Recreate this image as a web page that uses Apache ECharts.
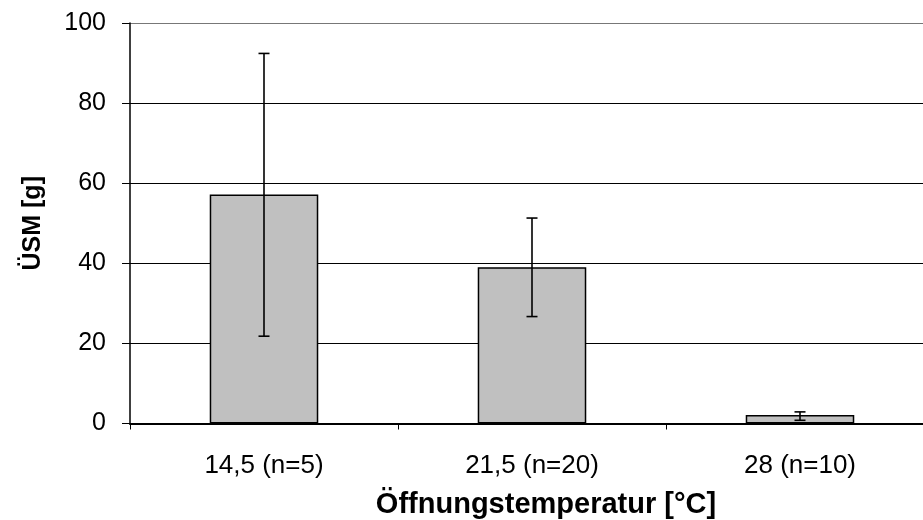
<!DOCTYPE html>
<html>
<head>
<meta charset="utf-8">
<script src="https://cdn.jsdelivr.net/npm/echarts@6/dist/echarts.min.js"></script>
<style>
  html, body { margin: 0; padding: 0; background: #fff; }
  #chart { width: 923px; height: 520px; }
</style>
</head>
<body>
<div id="chart"></div>
<script>
// Opening temperature groups and mean dry mass with error range
const categories = ['14,5 (n=5)', '21,5 (n=20)', '28 (n=10)'];
const meanValues = [57.2, 39.0, 2.1];
const errLow = [21.8, 26.7, 0.8];
const errHigh = [92.4, 51.3, 2.9];
const yTicks = [0, 20, 40, 60, 80, 100];

const FONT = '"Liberation Sans", Arial, sans-serif';

const chart = echarts.init(document.getElementById('chart'), null, { renderer: 'canvas' });

const errData = categories.map((c, i) => [i, errLow[i], errHigh[i]]);

chart.setOption({
  animation: false,
  backgroundColor: '#fff',
  grid: { left: 130, top: 23, width: 804, height: 400.5, containLabel: false, outerBoundsMode: 'none' },
  xAxis: {
    type: 'category',
    data: categories,
    name: 'Öffnungstemperatur [°C]',
    nameLocation: 'middle',
    nameGap: 67,
    nameTextStyle: { fontFamily: FONT, fontSize: 29, fontWeight: 'bold', color: '#000', padding: [0, 0, 0, 28] },
    axisLine: { lineStyle: { color: '#000', width: 2 } },
    axisTick: { show: true, length: 6, lineStyle: { color: '#000', width: 1 }, alignWithLabel: false },
    axisLabel: { fontFamily: FONT, fontSize: 26, color: '#000', margin: 29 },
    splitLine: { show: false }
  },
  yAxis: {
    type: 'value',
    min: yTicks[0],
    max: yTicks[yTicks.length - 1],
    interval: 20,
    name: 'ÜSM [g]',
    nameLocation: 'middle',
    nameGap: 84,
    nameRotate: 90,
    nameTextStyle: { fontFamily: FONT, fontSize: 25, fontWeight: 'bold', color: '#000' },
    axisLine: { show: true, lineStyle: { color: '#000', width: 1.5 } },
    axisTick: { show: true, length: 8, lineStyle: { color: '#000', width: 1 } },
    axisLabel: { fontFamily: FONT, fontSize: 25, color: '#000', margin: 24 },
    splitLine: { show: true, lineStyle: { color: ['#000', '#000', '#000', '#000', '#000', '#777'], width: 1 } }
  },
  series: [
    {
      type: 'bar',
      data: meanValues,
      barWidth: '40.5%',
      itemStyle: { color: '#c0c0c0', borderColor: '#000', borderWidth: 1.5 },
      z: 2
    },
    {
      type: 'custom',
      data: errData,
      z: 3,
      renderItem: function (params, api) {
        const x = api.value(0);
        const lo = api.coord([x, api.value(1)]);
        const hi = api.coord([x, api.value(2)]);
        const half = 5.5;
        const style = { stroke: '#000', lineWidth: 1.6 };
        return {
          type: 'group',
          children: [
            { type: 'line', shape: { x1: lo[0], y1: lo[1], x2: hi[0], y2: hi[1] }, style: style },
            { type: 'line', shape: { x1: lo[0] - half, y1: lo[1], x2: lo[0] + half, y2: lo[1] }, style: style },
            { type: 'line', shape: { x1: hi[0] - half, y1: hi[1], x2: hi[0] + half, y2: hi[1] }, style: style }
          ]
        };
      }
    }
  ]
});
</script>
</body>
</html>
